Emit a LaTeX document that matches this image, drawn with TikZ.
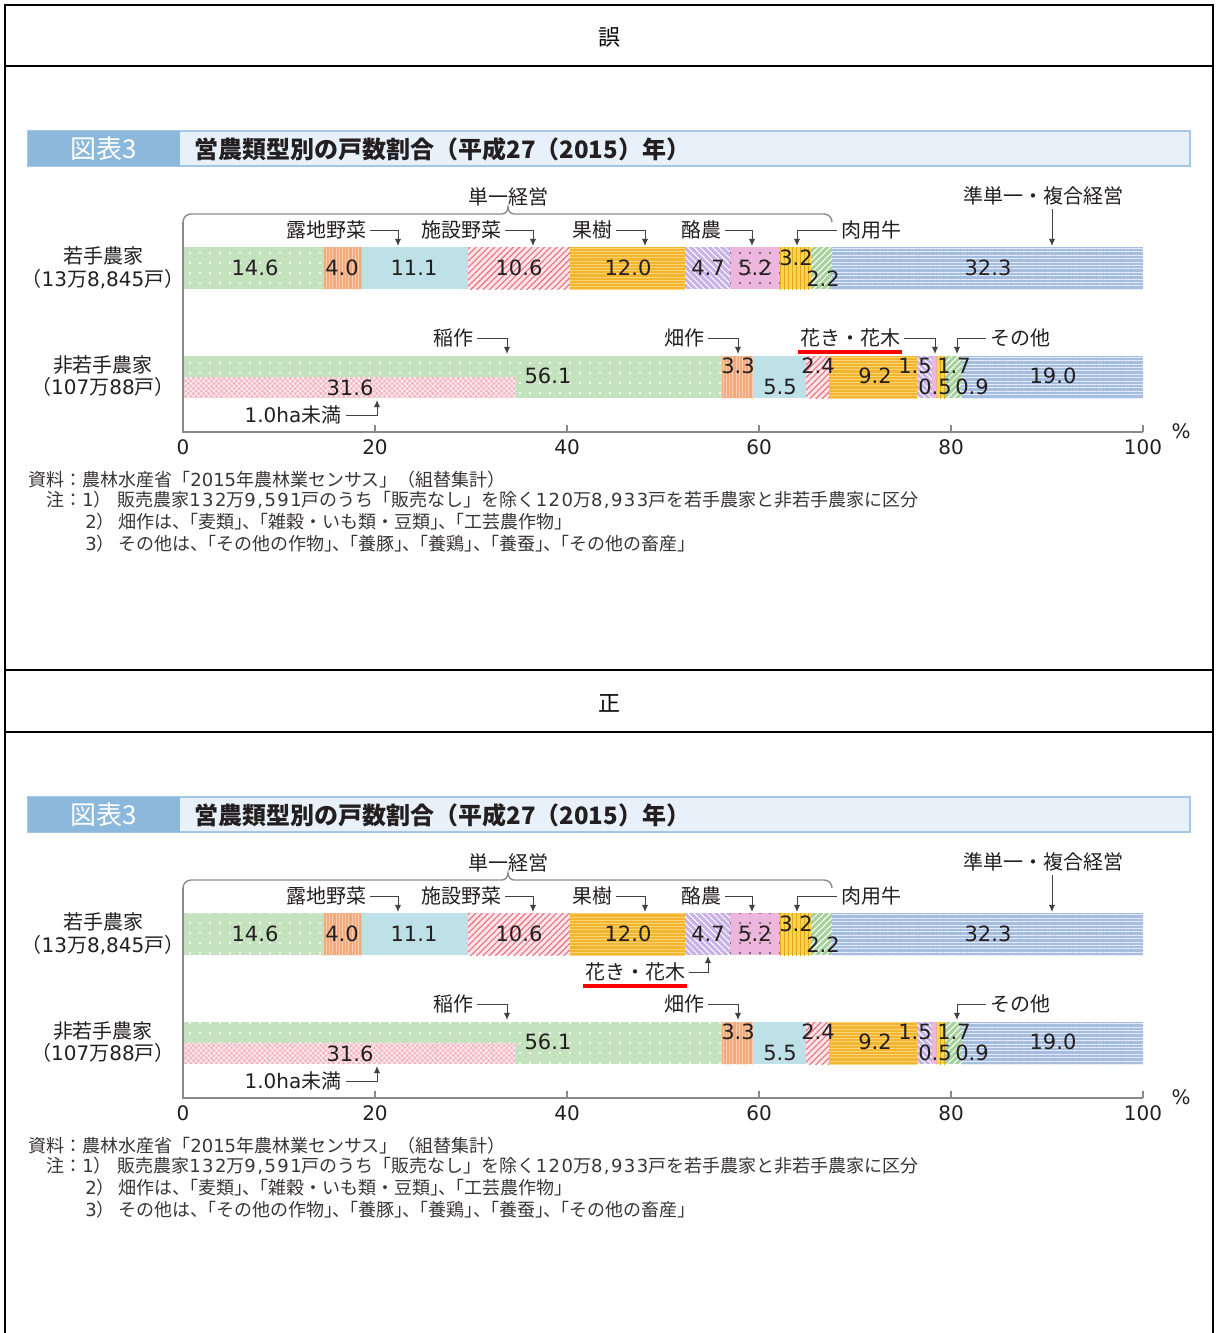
\documentclass[tikz,border=0pt]{standalone}
\usepackage{fontspec}
\setmainfont{Noto Sans CJK JP}
\newfontfamily\numfont{DejaVu Sans}
\newfontfamily\notenum[LetterSpace=8]{DejaVu Sans}
\newcommand\dg[1]{{\numfont #1}}
\newcommand\wdg[1]{{\notenum #1}}
\newcommand\pk{\kern-.55em}
\usetikzlibrary{positioning,arrows.meta,patterns.meta}

\definecolor{ink}{HTML}{231F20}
\definecolor{axisC}{HTML}{8A8A8A}
\definecolor{barC}{HTML}{E8F1F9}
\definecolor{barL}{HTML}{A3C7E4}
\definecolor{tagC}{HTML}{8CB8DB}
\definecolor{riceC}{HTML}{C4E2BE}
\definecolor{uplandC}{HTML}{F0AA7D}
\definecolor{uplandL}{HTML}{F9CDAE}
\definecolor{openvegC}{HTML}{BEE1E8}
\definecolor{housevegC}{HTML}{FBE4E7}
\definecolor{housevegL}{HTML}{E8707F}
\definecolor{fruitC}{HTML}{F3B52F}
\definecolor{fruitL}{HTML}{F9D677}
\definecolor{flowerC}{HTML}{C7B1E6}
\definecolor{dairyC}{HTML}{EDB6DC}
\definecolor{beefC}{HTML}{F6D54A}
\definecolor{beefL}{HTML}{E0A822}
\definecolor{othersC}{HTML}{A6D19C}
\definecolor{mixedC}{HTML}{A5BDE0}
\definecolor{under1haC}{HTML}{F4B9C4}

\begin{document}
\begin{tikzpicture}[
  x=0.5pt, y=-0.5pt,
  >=Latex,
  frame/.style={line width=1.3pt},
  head/.style={font=\fontsize{11}{13}\selectfont, inner sep=0pt},
  titlebar/.style={fill=barC, draw=barL, line width=0.6pt},
  tag/.style={fill=tagC, text=white, font=\fontsize{13}{15}\selectfont, inner sep=0pt, minimum width=76pt, minimum height=17.5pt},
  ttl/.style={font=\bfseries\fontsize{12}{14}\selectfont, inner sep=0pt, anchor=west, text=ink},
  lbl/.style={font=\fontsize{10}{12}\selectfont, inner sep=0pt, text=ink},
  val/.style={font=\numfont\fontsize{10.5}{12}\selectfont, inner sep=0pt, text=ink},
  tick/.style={font=\numfont\fontsize{10}{12}\selectfont, inner sep=0pt, text=ink},
  note/.style={font=\fontsize{9}{10}\selectfont, inner sep=0pt, anchor=west, text=ink!90},
  axisline/.style={draw=axisC, line width=0.7pt},
  lead/.style={draw=ink!85, line width=0.5pt, -{Latex[length=3.6pt,width=3.2pt]}},
  mark red/.style={draw=red, line width=2pt},
  rice/.style={fill=riceC, postaction={pattern={Dots[radius=0.6pt,distance=5pt]},pattern color=white}},
  upland/.style={fill=uplandC, postaction={pattern={Lines[angle=90,distance=1.6pt,line width=0.35pt]},pattern color=uplandL}},
  openveg/.style={fill=openvegC},
  houseveg/.style={fill=housevegC, postaction={pattern={Lines[angle=45,distance=2.2pt,line width=0.55pt]},pattern color=housevegL}},
  fruit/.style={fill=fruitC, postaction={pattern={Lines[angle=0,distance=1.6pt,line width=0.35pt]},pattern color=fruitL}},
  flower/.style={fill=flowerC, postaction={pattern={Lines[angle=-45,distance=2.2pt,line width=0.5pt]},pattern color=white}},
  dairy/.style={fill=dairyC, postaction={pattern={Dots[radius=0.55pt,distance=5pt]},pattern color=gray!70!black}},
  beef/.style={fill=beefC, postaction={pattern={Lines[angle=90,distance=2pt,line width=0.5pt]},pattern color=beefL}},
  others/.style={fill=othersC, postaction={pattern={Lines[angle=45,distance=2.2pt,line width=0.5pt]},pattern color=white}},
  mixed/.style={fill=mixedC, postaction={pattern={Lines[angle=0,distance=1.7pt,line width=0.3pt]},pattern color=white!75!mixedC}},
  under1ha/.style={fill=under1haC, postaction={pattern={Hatch[angle=45,distance=1.8pt,line width=0.25pt]},pattern color=white}}
]
\useasboundingbox (0,0) rectangle (1220,1333);

% Outer frame and header rules
\draw[frame] (5,1333) -- (5,5) -- (1213,5) -- (1213,1333);
\foreach \yy in {66,670,732} \draw[frame] (5,\yy) -- (1213,\yy);

% Same chart in both panels
\foreach \pn/\dy/\hd in {w/0/誤, c/666/正} {
\begin{scope}[shift={(0,\dy)}, name prefix=\pn-]
  \node[head] (head) at (609,37) {\hd};

  % Title bar
  \path[titlebar] (28,131) rectangle (1190,166);
  \node[tag] (tag) at (104,148.5) {図表3};
  \node[ttl] (title) at (194,149) {営農類型別の戸数割合（平成27（2015）年）};

  % Row labels
  \node[lbl] (young) at (103,256) {若手農家};
  \node[lbl] (youngn) at (103,279) {（\dg{13}万\dg{8,845}戸）};
  \node[lbl] (older) at (103,365) {非若手農家};
  \node[lbl] (oldern) at (103,387) {（\dg{107}万\dg{88}戸）};

  % Bars
  \foreach \a/\b/\s in {0/14.6/rice, 14.6/18.6/upland, 18.6/29.7/openveg, 29.7/40.3/houseveg, 40.3/52.3/fruit, 52.3/57.0/flower, 57.0/62.2/dairy, 62.2/65.4/beef, 65.4/67.6/others, 67.6/100/mixed}
    \path[\s] ({183+9.6*\a},247) rectangle ({183+9.6*\b},289);
  \foreach \a/\b/\s in {0/56.1/rice, 56.1/59.4/upland, 59.4/64.9/openveg, 64.9/67.3/houseveg, 67.3/76.5/fruit, 76.5/78.0/flower, 78.0/78.5/dairy, 78.5/79.4/beef, 79.4/81.1/others, 81.1/100/mixed}
    \path[\s] ({183+9.6*\a},356) rectangle ({183+9.6*\b},398);
  \path[under1ha] (183,377) rectangle (516,398);

  % Values
  \foreach \vx/\vy/\vt [count=\i] in {255/268/14.6, 342/268/4.0, 414/268/11.1, 519/268/10.6, 628/268/12.0, 708/268/4.7, 755/268/5.2, 796/258/3.2, 823/279/2.2, 988/268/32.3}
    \node[val] (u\i) at (\vx,\vy) {\vt};
  \foreach \vx/\vy/\vt [count=\i] in {548/376/56.1, 350/388/31.6, 738/366/3.3, 780/387/5.5, 818/366/2.4, 875/376/9.2, 915/366/1.5, 935/387/0.5, 954/366/1.7, 972/387/0.9, 1053/376/19.0}
    \node[val] (d\i) at (\vx,\vy) {\vt};

  % Axis, brace
  \draw[axisline] (183,222) -- (183,432) -- (1143,432);
  \foreach \p in {20,40,...,100} \draw[axisline] ({183+9.6*\p},432) -- ({183+9.6*\p},425);
  \foreach \p in {0,20,...,100} \node[tick] (x\p) at ({183+9.6*\p},447) {\p};
  \node[tick] (pct) at (1181,431) {\%};
  \draw[axisline] (183,222) to[out=90,in=180] (191,214) -- (502,214) to[out=0,in=-90] (508,207)
    to[out=-90,in=180] (514,214) -- (824,214) to[out=0,in=90] (832,222);
  \node[lbl] (single) at (508,197) {単一経営};

  % Leaders, young row
  \node[lbl] (lroji) at (326,230) {露地野菜};
  \node[lbl] (lshisetsu) at (461,230) {施設野菜};
  \node[lbl] (lkaju) at (592,230) {果樹};
  \node[lbl] (lrakuno) at (701,230) {酪農};
  \node[lbl] (lnikuyo) at (871,230) {肉用牛};
  \node[lbl] (ljuntan) at (1043,196) {準単一・複合経営};
  \coordinate (troji) at (398,246);
  \coordinate (tshisetsu) at (533,246);
  \coordinate (tkaju) at (645,246);
  \coordinate (trakuno) at (752,246);
  \coordinate (tnikuyo) at (797,246);
  \coordinate (sjuntan) at (1052,209);
  \coordinate (tjuntan) at (1052,246);
  \draw[lead] ([xshift=2pt]lroji.east) -| (troji);
  \draw[lead] ([xshift=2pt]lshisetsu.east) -| (tshisetsu);
  \draw[lead] ([xshift=2pt]lkaju.east) -| (tkaju);
  \draw[lead] ([xshift=2pt]lrakuno.east) -| (trakuno);
  \draw[lead] ([xshift=-2pt]lnikuyo.west) -| (tnikuyo);
  \draw[lead] (sjuntan) -- (tjuntan);

  % Leaders, other row
  \node[lbl] (linesaku) at (453,338) {稲作};
  \node[lbl] (lhatasaku) at (684,338) {畑作};
  \node[lbl] (lsonota) at (1020,338) {その他};
  \node[lbl] (lha) at (293,415) {\dg{1.0ha}未満};
  \coordinate (tinesaku) at (507,354);
  \coordinate (thatasaku) at (738,354);
  \coordinate (tsonota) at (957,354);
  \coordinate (tha) at (377,400);
  \draw[lead] ([xshift=2pt]linesaku.east) -| (tinesaku);
  \draw[lead] ([xshift=2pt]lhatasaku.east) -| (thatasaku);
  \draw[lead] ([xshift=-2pt]lsonota.west) -| (tsonota);
  \draw[lead] ([xshift=2pt]lha.east) -| (tha);

  % Notes
  \node[note] (src) at (28,480) {資料：農林水産省「\dg{2015}年農林業センサス」（組替集計）};
  \node[note] (n1) at (46,500) {注：\dg{1}）\hspace{0.3em}販売農家\wdg{132}万\wdg{9,591}戸のうち「販売なし」を除く\wdg{120}万\wdg{8,933}戸を若手農家と非若手農家に区分};
  \node[note] (n2) at (85,522) {\dg{2}）\hspace{0.2em}畑作は、\pk「麦類」\pk、\pk「雑穀・いも類・豆類」\pk、\pk「工芸農作物」};
  \node[note] (n3) at (85,544) {\dg{3}）\hspace{0.2em}その他は、\pk「その他の作物」\pk、\pk「養豚」\pk、\pk「養鶏」\pk、\pk「養蚕」\pk、\pk「その他の畜産」};
\end{scope}
}

% Wrong panel: label on the lower row
\begin{scope}[name prefix=w-]
  \node[lbl] (lkaki) at (850,338) {花き・花木};
  \draw[mark red] ([xshift=-1pt,yshift=-2pt]lkaki.south west) -- ([xshift=1pt,yshift=-2pt]lkaki.south east);
  \coordinate (tkaki) at (935,354);
  \draw[lead] ([xshift=2pt]lkaki.east) -| (tkaki);
\end{scope}

% Correct panel: label under the young row
\begin{scope}[shift={(0,666)}, name prefix=c-]
  \node[lbl] (lkaki) at (635,306) {花き・花木};
  \draw[mark red] ([xshift=-1pt,yshift=-2pt]lkaki.south west) -- ([xshift=1pt,yshift=-2pt]lkaki.south east);
  \coordinate (tkaki) at (708,290);
  \draw[lead] ([xshift=2pt]lkaki.east) -| (tkaki);
\end{scope}

\end{tikzpicture}
\end{document}
